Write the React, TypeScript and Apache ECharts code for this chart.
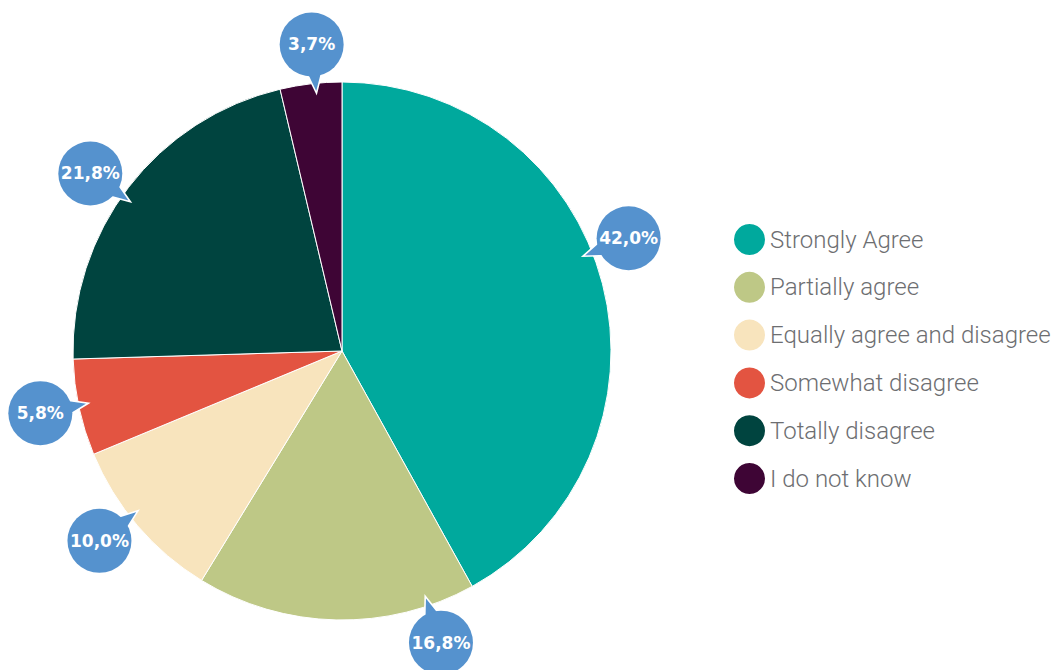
import React, { useEffect, useRef } from "react";
import * as echarts from "echarts";

const categories = [
  "Strongly Agree",
  "Partially agree",
  "Equally agree and disagree",
  "Somewhat disagree",
  "Totally disagree",
  "I do not know",
];
const values = [42.0, 16.8, 10.0, 5.8, 21.8, 3.7];
const colors = ["#00A99D", "#BEC886", "#F8E4BD", "#E35441", "#00443F", "#3E0535"];

// layout constants (not data)
const CX = 342;
const CY = 351;
const RADIUS = 269;
const BUBBLE_DIST = 308;
const TIP_DIST = 259;
const BUBBLE_R = 32;
const BOX = 112;
const BUBBLE_COLOR = "#5592CE";
const LABEL_ANGLE_NUDGE = [-7, -20, 2.5, 0.5, -2.3, 1];

function midAngles(): number[] {
  const total = values.reduce((a, b) => a + b, 0);
  let cum = 0;
  return values.map((v, i) => {
    const mid = ((cum + v / 2) / total) * 360 + LABEL_ANGLE_NUDGE[i];
    cum += v;
    return mid;
  });
}

function bubbleImage(angleDeg: number): string {
  const a = (angleDeg * Math.PI) / 180;
  const c = BOX / 2;
  const dx = -Math.sin(a);
  const dy = Math.cos(a);
  const L = Math.abs(BUBBLE_DIST - TIP_DIST);
  const tx = c + dx * L;
  const ty = c + dy * L;
  const phi = Math.atan2(dy, dx);
  const br = BUBBLE_R - 5;
  const b1x = c + Math.cos(phi + 0.32) * br;
  const b1y = c + Math.sin(phi + 0.32) * br;
  const b2x = c + Math.cos(phi - 0.32) * br;
  const b2y = c + Math.sin(phi - 0.32) * br;
  const svg =
    `<svg xmlns="http://www.w3.org/2000/svg" width="${BOX}" height="${BOX}" viewBox="0 0 ${BOX} ${BOX}">` +
    `<polygon points="${tx.toFixed(2)},${ty.toFixed(2)} ${b1x.toFixed(2)},${b1y.toFixed(2)} ${b2x.toFixed(2)},${b2y.toFixed(2)}" fill="${BUBBLE_COLOR}" stroke="#ffffff" stroke-width="1.6" stroke-linejoin="miter"/>` +
    `<circle cx="${c}" cy="${c}" r="${BUBBLE_R}" fill="${BUBBLE_COLOR}"/>` +
    `</svg>`;
  return "data:image/svg+xml;charset=utf-8," + encodeURIComponent(svg);
}

export default function App() {
  const ref = useRef<HTMLDivElement>(null);

  useEffect(() => {
    document.body.style.margin = "0";
    if (!ref.current) return;
    const chart = echarts.init(ref.current, undefined, { renderer: "svg" });
    const angles = midAngles();

    const data = values.map((v, i) => ({
      value: v,
      name: categories[i],
      itemStyle: { color: colors[i] },
      label: {
        backgroundColor: { image: bubbleImage(angles[i]) },
      },
    }));

    chart.setOption({
      animation: false,
      backgroundColor: "#ffffff",
      legend: {
        orient: "vertical",
        left: 729,
        top: 219,
        itemWidth: 31,
        itemHeight: 31,
        itemGap: 16.8,
        icon: "circle",
        data: categories,
        textStyle: {
          fontFamily: "Roboto, 'Liberation Sans', sans-serif",
          fontWeight: 300,
          fontSize: 24,
          color: "#6D6E71",
        },
        itemStyle: { borderWidth: 0 },
      },
      series: [
        {
          type: "pie",
          center: [CX, CY],
          radius: RADIUS,
          startAngle: 90,
          clockwise: true,
          avoidLabelOverlap: false,
          itemStyle: { borderColor: "#ffffff", borderWidth: 1 },
          emphasis: { disabled: true },
          labelLine: { show: false },
          label: {
            show: true,
            position: "outside",
            formatter: (p: any) => p.value.toFixed(1).replace(".", ",") + "%",
            color: "#ffffff",
            fontFamily: "'DejaVu Sans', sans-serif",
            fontWeight: "bold",
            fontSize: 17,
            width: BOX,
            height: BOX,
            lineHeight: BOX,
            align: "center",
            verticalAlign: "middle",
            padding: 0,
          },
          labelLayout: (params: any) => {
            const a = (angles[params.dataIndex] * Math.PI) / 180;
            return {
              x: CX + Math.sin(a) * BUBBLE_DIST,
              y: CY - Math.cos(a) * BUBBLE_DIST,
              align: "center",
              verticalAlign: "middle",
            };
          },
          data,
        },
      ],
    });

    return () => {
      chart.dispose();
    };
  }, []);

  return <div ref={ref} style={{ width: 1058, height: 670 }} />;
}
